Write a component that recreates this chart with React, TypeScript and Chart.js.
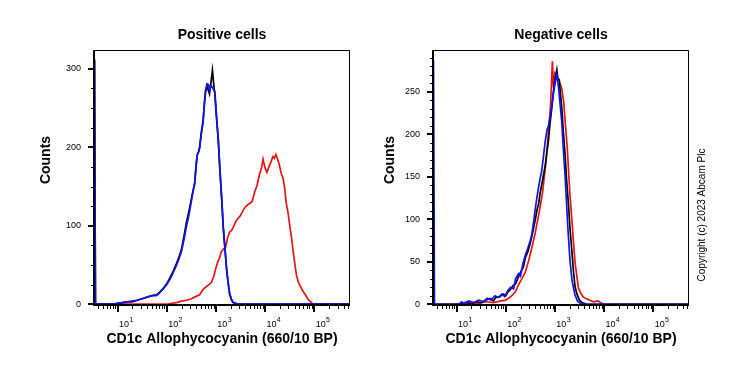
import React, { useEffect, useRef } from 'react';
import { Chart, registerables } from 'chart.js';

Chart.register(...registerables);

const FONT = '"Liberation Sans", Arial, Helvetica, sans-serif';

// ---- x axis (log10 of fluorescence) ----
const xMinExp = 0.52;
const xMaxExp = 5.73;
const xDecadeExps = [1, 2, 3, 4, 5];

// ---- Positive cells panel ----
const posYTicks = [0, 100, 200, 300];
const posYMinorStep = 25;
const posBBLogX = [0.53, 0.55, 0.9, 1.0, 1.1, 1.2, 1.3, 1.4, 1.5, 1.6, 1.7, 1.79, 1.85, 1.9, 1.95, 2.0, 2.06, 2.13, 2.2, 2.25, 2.3, 2.35, 2.4, 2.44, 2.47, 2.52, 2.57, 2.6, 2.62, 2.65, 2.67, 2.7, 2.74, 2.77, 2.79, 2.82, 2.85, 2.87, 2.9, 2.93, 2.96, 2.98, 3.01, 3.05, 3.08, 3.12, 3.15, 3.19, 3.22, 3.25, 3.28, 3.32, 3.35, 3.4, 3.45, 5.73];
const posBlueY = [312, 0, 0, 1, 2, 3, 3, 5, 7, 9, 11, 11, 14, 18, 21, 25, 31, 40, 50, 58, 67, 82, 99, 110, 120, 138, 154, 178, 190, 194, 199, 215, 232, 258, 273, 281, 280, 273, 279, 276, 273, 270, 243, 210, 175, 135, 99, 68, 44, 28, 14, 6, 3, 1, 0, 0];
const posBlackY = [312, 0, 0, 1, 2, 3, 4, 5, 7, 9, 11, 12, 15, 18, 22, 26, 33, 42, 52, 60, 70, 86, 104, 115, 124, 140, 155, 178, 190, 195, 200, 217, 234, 258, 270, 278, 272, 268, 282, 298, 278, 268, 240, 208, 173, 133, 98, 67, 43, 27, 13, 5, 2, 1, 0, 0];
const posRedLogX = [0.53, 0.55, 2.0, 2.1, 2.2, 2.3, 2.4, 2.5, 2.6, 2.67, 2.74, 2.8, 2.86, 2.91, 2.96, 3.0, 3.04, 3.08, 3.11, 3.15, 3.2, 3.24, 3.28, 3.32, 3.36, 3.42, 3.49, 3.55, 3.6, 3.65, 3.7, 3.74, 3.79, 3.84, 3.89, 3.93, 3.96, 4.0, 4.04, 4.08, 4.12, 4.16, 4.19, 4.22, 4.25, 4.29, 4.33, 4.37, 4.4, 4.43, 4.47, 4.5, 4.54, 4.57, 4.61, 4.64, 4.68, 4.71, 4.75, 4.8, 4.84, 4.88, 4.93, 4.98, 5.73];
const posRedY = [14, 0, 0, 1, 2, 4, 5, 7, 10, 12, 19, 22, 25, 28, 36, 46, 54, 60, 67, 70, 73, 85, 92, 94, 99, 107, 112, 119, 124, 127, 129, 131, 143, 152, 166, 174, 185, 174, 168, 175, 181, 188, 186, 191, 186, 178, 167, 160, 148, 130, 116, 102, 85, 69, 50, 37, 28, 24, 19, 14, 10, 6, 3, 0, 0];

// ---- Negative cells panel ----
const negYTicks = [0, 50, 100, 150, 200, 250];
const negYMinorStep = 10;
const negBlackLogX = [0.53, 1.0, 1.1, 1.2, 1.3, 1.4, 1.5, 1.6, 1.68, 1.75, 1.8, 1.88, 1.95, 2.0, 2.05, 2.09, 2.15, 2.2, 2.25, 2.28, 2.33, 2.36, 2.4, 2.45, 2.5, 2.55, 2.6, 2.64, 2.67, 2.7, 2.75, 2.8, 2.84, 2.87, 2.9, 2.94, 2.97, 2.99, 3.02, 3.04, 3.06, 3.09, 3.11, 3.14, 3.17, 3.21, 3.24, 3.28, 3.31, 3.35, 3.38, 3.41, 3.45, 3.5, 3.55, 3.65, 5.73];
const negBlackY = [0, 0, 1, 2, 0, 3, 2, 5, 7, 4, 8, 9, 12, 10, 15, 17, 22, 24, 31, 35, 41, 44, 55, 62, 72, 85, 99, 112, 118, 131, 146, 162, 180, 193, 212, 232, 250, 260, 270, 276, 266, 264, 250, 232, 205, 174, 145, 115, 88, 60, 38, 21, 12, 5, 2, 0, 0];
const negRedLogX = [0.53, 1.1, 1.2, 1.3, 1.45, 1.6, 1.75, 1.9, 2.0, 2.08, 2.14, 2.2, 2.27, 2.34, 2.4, 2.47, 2.53, 2.6, 2.67, 2.71, 2.75, 2.82, 2.86, 2.91, 2.95, 2.97, 3.0, 3.04, 3.09, 3.14, 3.18, 3.21, 3.25, 3.28, 3.31, 3.35, 3.38, 3.41, 3.45, 3.48, 3.52, 3.57, 3.62, 3.7, 3.79, 3.88, 3.96, 4.0, 5.73];
const negRedY = [0, 0, 3, 2, 1, 3, 2, 4, 5, 8, 11, 15, 24, 31, 38, 52, 66, 84, 105, 118, 132, 168, 195, 232, 286, 255, 272, 268, 262, 254, 238, 215, 186, 156, 126, 97, 72, 50, 32, 19, 14, 9, 7, 5, 3, 4, 1, 0, 0];
const negBlueLogX = [0.53, 0.55, 1.05, 1.1, 1.15, 1.25, 1.35, 1.45, 1.55, 1.62, 1.7, 1.78, 1.85, 1.92, 1.98, 2.04, 2.1, 2.16, 2.2, 2.26, 2.3, 2.35, 2.4, 2.45, 2.5, 2.53, 2.57, 2.62, 2.66, 2.7, 2.73, 2.77, 2.8, 2.84, 2.87, 2.9, 2.94, 2.97, 3.01, 3.04, 3.07, 3.1, 3.14, 3.17, 3.21, 3.24, 3.27, 3.31, 3.35, 3.41, 3.46, 3.52, 3.6, 5.73];
const negBlueY = [287, 0, 0, 3, 1, 4, 2, 5, 3, 7, 5, 10, 8, 12, 9, 16, 20, 18, 30, 36, 33, 48, 58, 66, 75, 82, 98, 120, 135, 148, 156, 175, 190, 205, 210, 219, 235, 248, 262, 270, 258, 240, 215, 185, 150, 117, 85, 50, 28, 11, 4, 1, 0, 0];

const BLUE = '#1212ee';
const BLACK = '#000000';
const RED = '#e61414';

type Series = { x: number[]; y: number[]; color: string };

type PanelCfg = {
  title: string;
  series: Series[];
  yMin: number;
  yMax: number;
  yMajor: number[];
  yMinorStep: number;
  yAxisWidth: number;
  padRight: number;
  yTitleX: number;
  copyrightX?: number;
  left: number;
  width: number;
};

const axisPlugin = {
  id: 'flowAxes',
  afterDraw(chart: any, _args: any, cfg: any) {
    const { ctx, chartArea: a } = chart;
    const x = chart.scales.x;
    const y = chart.scales.y;
    ctx.save();
    ctx.strokeStyle = '#000';
    ctx.fillStyle = '#000';
    // frame top / right
    ctx.lineWidth = 1;
    ctx.beginPath();
    ctx.moveTo(a.left, a.top + 0.5);
    ctx.lineTo(a.right - 0.5, a.top + 0.5);
    ctx.lineTo(a.right - 0.5, a.bottom);
    ctx.stroke();
    // axes left / bottom
    ctx.lineWidth = 2;
    ctx.beginPath();
    ctx.moveTo(a.left, a.top);
    ctx.lineTo(a.left, a.bottom);
    ctx.lineTo(a.right, a.bottom);
    ctx.stroke();
    // y ticks
    for (let v = 0; v <= y.max; v += cfg.yMinorStep) {
      const major = cfg.yMajor.includes(v);
      const py = y.getPixelForValue(v);
      const ry = major ? Math.round(py) : Math.round(py) + 0.5;
      ctx.lineWidth = major ? 2 : 1;
      ctx.beginPath();
      ctx.moveTo(a.left - (major ? 6 : 3), ry);
      ctx.lineTo(a.left, ry);
      ctx.stroke();
    }
    // x ticks
    for (let n = 0; n <= 5; n++) {
      for (let k = 1; k <= 9; k++) {
        const v = k * Math.pow(10, n);
        if (v < x.min || v > x.max) continue;
        const major = k === 1;
        const px = x.getPixelForValue(v);
        const rx = major ? Math.round(px) : Math.round(px) + 0.5;
        ctx.lineWidth = major ? 2 : 1;
        ctx.beginPath();
        ctx.moveTo(rx, a.bottom);
        ctx.lineTo(rx, a.bottom + (major ? 7 : 4));
        ctx.stroke();
      }
    }
    // x tick labels 10^n
    ctx.textAlign = 'left';
    ctx.textBaseline = 'alphabetic';
    for (const e of xDecadeExps) {
      const px = x.getPixelForValue(Math.pow(10, e));
      ctx.font = `9px ${FONT}`;
      ctx.fillText('10', px + 1.5, a.bottom + 21.5);
      const w = ctx.measureText('10').width;
      ctx.font = `7px ${FONT}`;
      ctx.fillText(String(e), px + 1.5 + w + 0.3, a.bottom + 17);
    }
    // y title
    ctx.font = `bold 14px ${FONT}`;
    ctx.textAlign = 'center';
    ctx.textBaseline = 'middle';
    ctx.save();
    ctx.translate(cfg.yTitleX, 160);
    ctx.rotate(-Math.PI / 2);
    ctx.fillText('Counts', 0, 0);
    ctx.restore();
    if (cfg.copyrightX) {
      ctx.font = `10px ${FONT}`;
      ctx.save();
      ctx.translate(cfg.copyrightX, 215);
      ctx.rotate(-Math.PI / 2);
      ctx.fillText('Copyright (c) 2023 Abcam Plc', 0, 0);
      ctx.restore();
    }
    ctx.restore();
  },
};

function Panel(p: PanelCfg) {
  const ref = useRef<HTMLCanvasElement>(null);
  useEffect(() => {
    if (!ref.current) return;
    const chart = new Chart(ref.current, {
      type: 'line',
      data: {
        datasets: p.series.map((s) => ({
          data: s.x.map((e, i) => ({ x: Math.pow(10, e), y: s.y[i] })),
          borderColor: s.color,
          borderWidth: 1.7,
          pointRadius: 0,
          tension: 0,
          fill: false,
        })),
      },
      options: {
        responsive: false,
        animation: false,
        events: [],
        layout: { padding: { left: 0, right: p.padRight, top: 0, bottom: 0 } },
        plugins: {
          legend: { display: false },
          tooltip: { enabled: false },
          title: {
            display: true,
            text: p.title,
            fullSize: false,
            color: '#000',
            font: { family: FONT, size: 14, weight: 'bold' },
            padding: { top: 26.6, bottom: 6.6 },
          },
          flowAxes: {
            yMajor: p.yMajor,
            yMinorStep: p.yMinorStep,
            yTitleX: p.yTitleX,
            copyrightX: p.copyrightX,
          },
        } as any,
        scales: {
          x: {
            type: 'logarithmic',
            min: Math.pow(10, xMinExp),
            max: Math.pow(10, xMaxExp),
            ticks: { display: false },
            grid: { display: false, drawTicks: false },
            border: { display: false },
            title: {
              display: true,
              text: 'CD1c Allophycocyanin (660/10 BP)',
              color: '#000',
              font: { family: FONT, size: 14, weight: 'bold' },
              padding: { top: 0, bottom: 22 },
            },
            afterFit: (s: any) => {
              s.height = 65;
            },
          },
          y: {
            type: 'linear',
            min: p.yMin,
            max: p.yMax,
            afterBuildTicks: (s: any) => {
              s.ticks = p.yMajor.map((v) => ({ value: v }));
            },
            ticks: {
              color: '#000',
              padding: 13,
              font: { family: FONT, size: 9 },
              callback: (v: any) => String(v),
            },
            grid: { display: false, drawTicks: false },
            border: { display: false },
            afterFit: (s: any) => {
              s.width = p.yAxisWidth;
            },
          },
        },
      } as any,
      plugins: [axisPlugin],
    });
    return () => chart.destroy();
  }, []);
  return (
    <canvas
      ref={ref}
      width={p.width}
      height={370}
      style={{ position: 'absolute', left: p.left, top: 0, width: p.width, height: 370 }}
    />
  );
}

export default function App() {
  return (
    <div style={{ position: 'absolute', left: 0, top: 0, width: 739, height: 370, background: '#fff' }}>
      <Panel
        title="Positive cells"
        series={[
          { x: posBBLogX, y: posBlueY, color: BLUE },
          { x: posBBLogX, y: posBlackY, color: BLACK },
          { x: posRedLogX, y: posRedY, color: RED },
        ]}
        yMin={-1}
        yMax={324}
        yMajor={posYTicks}
        yMinorStep={posYMinorStep}
        yAxisWidth={94}
        padRight={20}
        yTitleX={46}
        left={0}
        width={370}
      />
      <Panel
        title="Negative cells"
        series={[
          { x: negBlueLogX, y: negBlueY, color: BLUE },
          { x: negBlackLogX, y: negBlackY, color: BLACK },
          { x: negRedLogX, y: negRedY, color: RED },
        ]}
        yMin={-0.8}
        yMax={299.2}
        yMajor={negYTicks}
        yMinorStep={negYMinorStep}
        yAxisWidth={63}
        padRight={50}
        yTitleX={20.5}
        copyrightX={332}
        left={370}
        width={369}
      />
    </div>
  );
}
